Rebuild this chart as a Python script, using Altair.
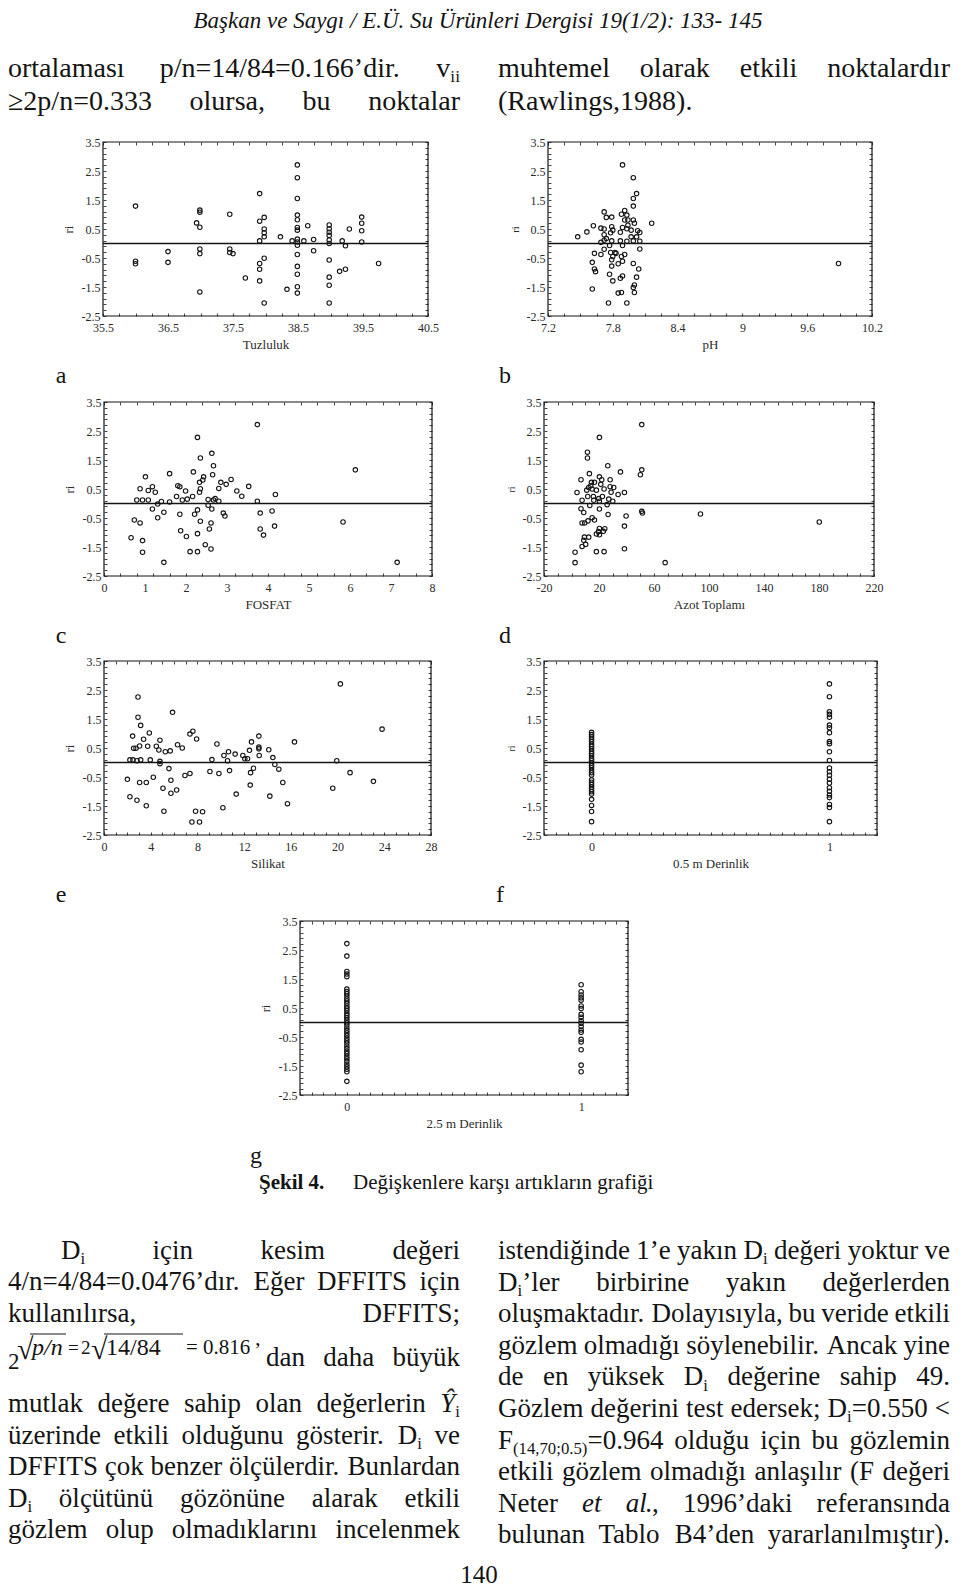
import re
import numpy as np
import pandas as pd
import altair as alt

# ---------------------------------------------------------------- data
tuzluluk_pts = [
    (36.0, 1.29), (36.0, -0.61), (36.0, -0.70), (36.5, -0.28), (36.5, -0.65),
    (36.99, 1.15), (36.99, 1.08), (36.94, 0.71), (36.99, 0.56), (36.99, -0.19),
    (36.99, -0.35), (36.99, -1.67), (37.45, 1.01), (37.45, -0.19), (37.45, -0.31),
    (37.5, -0.35), (37.69, -1.19), (37.91, 1.72), (37.91, 0.77), (37.91, 0.09),
    (37.91, -0.69), (37.91, -0.89), (37.91, -1.29), (37.98, 0.90), (37.98, 0.50),
    (37.98, 0.37), (37.98, 0.23), (37.98, -0.51), (37.98, -2.05), (38.23, 0.23),
    (38.33, -1.58), (38.41, 0.09), (38.49, 2.71), (38.49, 2.27), (38.49, 1.55),
    (38.49, 0.98), (38.49, 0.82), (38.49, 0.55), (38.49, 0.46), (38.49, 0.15),
    (38.49, 0.05), (38.49, -0.06), (38.49, -0.38), (38.49, -0.79), (38.49, -1.06),
    (38.49, -1.49), (38.49, -1.71), (38.59, 0.09), (38.65, 0.61), (38.74, 0.14),
    (38.74, -0.25), (38.98, 0.64), (38.98, 0.51), (38.98, 0.39), (38.98, 0.28),
    (38.98, 0.12), (38.98, 0.0), (38.98, -0.57), (38.98, -1.16), (38.98, -1.44),
    (38.98, -2.05), (39.14, -0.96), (39.18, 0.09), (39.23, -0.08), (39.23, -0.89),
    (39.29, 0.50), (39.48, 0.91), (39.48, 0.70), (39.48, 0.44), (39.48, 0.05),
    (39.74, -0.69),
]
ph_pts = [
    (7.475, 0.23), (7.56, 0.40), (7.62, 0.61), (7.61, -0.65), (7.61, -1.57),
    (7.63, -0.34), (7.63, -0.88), (7.64, -0.97), (7.69, 0.53), (7.69, 0.04),
    (7.69, -0.38), (7.72, 1.09), (7.72, 0.50), (7.72, 0.30), (7.72, 0.11),
    (7.72, -0.20), (7.74, 0.90), (7.74, 0.17), (7.77, -1.06), (7.76, -2.05),
    (7.77, -0.07), (7.78, 0.37), (7.78, -0.31), (7.79, 0.09), (7.79, 0.91),
    (7.79, 0.58), (7.79, -0.56), (7.79, -0.78), (7.80, 0.46), (7.80, -0.45),
    (7.80, -1.29), (7.82, -0.31), (7.83, -0.34), (7.85, -0.70), (7.85, -1.71),
    (7.87, 0.39), (7.87, 0.09), (7.87, -1.20), (7.88, 1.01), (7.88, -0.45),
    (7.88, -1.69), (7.89, 2.71), (7.89, 0.55), (7.89, -0.07), (7.89, -0.61),
    (7.89, -1.12), (7.91, 1.14), (7.91, 0.81), (7.91, -0.38), (7.93, 0.98),
    (7.93, 0.51), (7.93, 0.08), (7.93, -2.05), (7.94, 0.63), (7.94, 0.81),
    (7.97, 0.46), (7.97, 0.23), (7.99, 2.27), (7.99, 1.55), (7.99, 1.29),
    (7.99, 0.81), (7.99, 0.09), (7.99, -0.69), (8.0, 0.70), (8.0, -1.43),
    (8.0, -1.69), (7.99, -1.52), (8.02, 1.72), (8.02, 0.23), (8.02, -1.16),
    (8.03, 0.44), (8.04, -0.88), (8.05, 0.08), (8.05, -0.19), (8.05, 0.38),
    (8.16, 0.70), (9.89, -0.69),
]
fosfat_pts = [
    (0.66, -1.18), (0.74, -0.57), (0.80, 0.12), (0.88, 0.51), (0.88, -0.67),
    (0.94, 0.12), (0.94, -1.28), (0.94, -1.68), (1.01, 0.92), (1.08, 0.45),
    (1.08, 0.12), (1.18, 0.58), (1.18, -0.19), (1.25, 0.39), (1.31, -0.02),
    (1.31, -0.49), (1.40, 0.07), (1.46, -0.30), (1.46, -2.03), (1.60, 1.03),
    (1.60, 0.05), (1.77, 0.24), (1.80, 0.61), (1.85, 0.58), (1.85, -0.37),
    (1.87, -0.94), (1.91, 0.12), (1.99, 0.43), (2.01, -1.14), (2.03, 0.15),
    (2.10, -1.66), (2.16, 0.24), (2.18, 1.09), (2.21, -0.37), (2.28, 2.28),
    (2.28, -0.22), (2.28, -1.04), (2.28, -1.66), (2.33, 0.73), (2.33, 0.39),
    (2.35, 1.57), (2.35, 0.51), (2.35, -0.61), (2.41, 0.81), (2.43, 0.92),
    (2.47, -1.42), (2.54, 0.14), (2.54, -0.06), (2.57, -0.88), (2.61, -0.67),
    (2.61, -1.57), (2.63, 1.73), (2.63, -0.19), (2.65, 0.99), (2.67, 1.30),
    (2.67, 0.12), (2.71, 0.17), (2.80, 0.52), (2.80, 0.08), (2.85, 0.73),
    (2.91, -0.33), (2.95, -0.43), (2.98, 0.66), (3.10, 0.83), (3.24, 0.43),
    (3.36, 0.25), (3.53, 0.59), (3.74, 2.72), (3.74, 0.08), (3.81, -0.33),
    (3.81, -0.88), (3.89, -1.09), (4.10, -0.26), (4.16, -0.78), (4.18, 0.31),
    (5.83, -0.64), (6.13, 1.16), (7.15, -2.03),
]
azot_pts = [
    (2.6, -1.68), (2.6, -2.04), (4.0, 0.38), (6.9, 0.82), (6.9, -0.18),
    (7.7, 0.11), (7.7, -0.67), (7.7, -1.48), (8.9, -0.31), (8.9, -1.27),
    (9.4, -1.16), (9.6, -0.67), (10.3, -1.41), (11.1, 0.46), (11.6, 1.77),
    (11.6, 1.57), (11.8, 0.24), (12.0, -0.60), (12.5, 0.55), (12.5, -1.16),
    (13.0, 1.03), (13.3, -0.07), (14.0, 0.61), (14.5, 0.73), (15.0, 0.50),
    (15.0, -0.49), (15.9, 0.24), (16.2, 0.11), (16.7, 0.73), (16.7, -0.57),
    (18.1, 0.46), (18.1, -1.05), (18.1, -1.66), (19.6, -0.97), (19.8, 0.17),
    (20.3, 2.28), (20.3, 0.92), (20.3, 0.08), (20.3, -0.19), (20.3, -0.86),
    (20.3, -1.08), (21.3, 0.66), (22.0, 0.82), (22.5, 0.24), (23.2, -0.96),
    (23.7, 0.50), (23.7, -1.66), (24.2, -0.87), (25.9, -0.04), (26.4, 1.30),
    (26.6, -0.38), (27.1, 0.15), (28.1, 0.82), (28.1, 0.58), (28.8, 0.39),
    (30.0, 0.08), (30.7, 0.55), (33.9, 0.31), (35.6, 1.09), (38.5, 0.38),
    (38.5, -0.78), (38.5, -1.56), (39.7, -0.43), (50.1, 0.99), (51.1, 2.72),
    (51.1, 1.16), (51.1, -0.27), (51.6, -0.33), (68.1, -2.04), (93.8, -0.36),
    (180.2, -0.64),
]
silikat_pts = [
    (2.0, -0.58), (2.22, -1.18), (2.22, 0.09), (2.45, 0.91), (2.48, 0.09),
    (2.54, 0.49), (2.74, 0.49), (2.82, -1.30), (2.82, 0.06), (2.91, 2.26),
    (2.91, 1.56), (3.05, 0.57), (3.05, -0.69), (3.14, 1.28), (3.14, 0.09),
    (3.39, 0.80), (3.62, -0.69), (3.62, -1.49), (3.74, 0.56), (3.88, 1.02),
    (3.96, 0.09), (4.22, -0.51), (4.48, 0.56), (4.70, 0.43), (4.79, 0.77),
    (4.79, 0.04), (4.79, -0.04), (5.05, -0.89), (5.13, -1.68), (5.25, 0.37),
    (5.56, -0.21), (5.67, 0.40), (5.73, -0.61), (5.73, -1.06), (5.87, 1.73),
    (6.22, -0.95), (6.30, 0.61), (6.70, 0.50), (6.93, -0.45), (7.36, 0.98),
    (7.36, -0.38), (7.53, -2.05), (7.61, 1.08), (7.84, -1.68), (7.93, 0.81),
    (8.18, -2.05), (8.44, -1.70), (9.07, -0.31), (9.24, 0.10), (9.67, 0.64),
    (9.84, -0.38), (10.18, -1.56), (10.27, 0.24), (10.58, 0.06), (10.66, 0.37),
    (10.75, -0.28), (11.23, 0.29), (11.32, -1.09), (11.89, 0.24), (12.06, 0.13),
    (12.29, 0.13), (12.46, 0.42), (12.52, -0.78), (12.55, -0.35), (12.63, 0.71),
    (12.80, -0.20), (13.26, 0.91), (13.26, 0.53), (13.26, 0.47), (13.29, 0.24),
    (14.11, 0.44), (14.20, -1.16), (14.46, 0.17), (14.63, -0.07), (14.97, -0.23),
    (15.31, -0.69), (15.71, -1.42), (16.31, 0.71), (19.59, -0.89), (19.93, 0.06),
    (20.24, 2.71), (21.07, -0.35), (23.07, -0.65), (23.81, 1.15),
]
derin05_at0 = [1.04, 0.96, 0.88, 0.80, 0.72, 0.63, 0.55, 0.47, 0.39, 0.31,
               0.23, 0.14, 0.06, -0.02, -0.10, -0.18, -0.27, -0.35, -0.43, -0.60,
               -0.68, -0.76, -0.85, -0.93, -1.01, -1.09, -1.27, -1.48, -1.69, -2.04]
derin05_at1 = [2.71, 2.27, 1.75, 1.66, 1.56, 1.29, 1.20, 1.03, 0.72, 0.65,
               0.37, 0.07, -0.19, -0.32, -0.44, -0.58, -0.71, -0.87, -0.99, -1.12,
               -1.21, -1.45, -1.55, -2.04]
derin25_at0 = [2.72, 2.29, 1.76, 1.67, 1.58, 1.15, 1.07, 0.99, 0.91, 0.82,
               0.74, 0.66, 0.57, 0.49, 0.41, 0.32, 0.24, 0.16, 0.08, -0.01,
               -0.09, -0.19, -0.28, -0.36, -0.45, -0.54, -0.63, -0.71, -0.81, -0.90,
               -0.99, -1.07, -1.16, -1.25, -1.34, -1.44, -1.53, -1.61, -1.70, -2.03]
derin25_at1 = [1.30, 1.06, 0.95, 0.85, 0.77, 0.57, 0.48, 0.28, 0.18, 0.06,
               -0.03, -0.14, -0.26, -0.34, -0.58, -0.67, -0.94, -1.47, -1.70]

y_ticks = [3.5, 2.5, 1.5, 0.5, -0.5, -1.5, -2.5]
tuz_ticks = [35.5, 36.5, 37.5, 38.5, 39.5, 40.5]
ph_ticks = [7.2, 7.8, 8.4, 9, 9.6, 10.2]
fos_ticks = [0, 1, 2, 3, 4, 5, 6, 7, 8]
azot_ticks = [-20, 20, 60, 100, 140, 180, 220]
sil_ticks = [0, 4, 8, 12, 16, 20, 24, 28]
der_ticks = [0, 1]

header_text = "Başkan ve Saygı / E.Ü. Su Ürünleri Dergisi 19(1/2): 133- 145"
top_left_lines = ["ortalaması p/n=14/84=0.166’dir. v_{ii}",
                  "≥2p/n=0.333 olursa, bu noktalar"]
top_right_lines = ["muhtemel olarak etkili noktalardır",
                   "(Rawlings,1988)."]
panel_letters = ["a", "b", "c", "d", "e", "f", "g"]
caption_bold = "Şekil 4."
caption_rest = "Değişkenlere karşı artıkların grafiği"
left_par_a = ["D_{i} için kesim değeri",
              "4/n=4/84=0.0476’dır. Eğer DFFITS için",
              "kullanılırsa, DFFITS;"]
formula_parts = ["2", "√", "p/n", "=", "2", "√", "14/84", "= 0.816", "’"]
formula_dan = "dan daha büyük"
left_par_b = ["mutlak değere sahip olan değerlerin *Ŷ*_{i}",
              "üzerinde etkili olduğunu gösterir. D_{i} ve",
              "DFFITS çok benzer ölçülerdir. Bunlardan",
              "D_{i} ölçütünü gözönüne alarak etkili",
              "gözlem olup olmadıklarını incelenmek"]
right_par = ["istendiğinde 1’e yakın D_{i} değeri yoktur ve",
             "D_{i}’ler birbirine yakın değerlerden",
             "oluşmaktadır. Dolayısıyla, bu veride etkili",
             "gözlem olmadığı söylenebilir. Ancak yine",
             "de en yüksek D_{i} değerine sahip 49.",
             "Gözlem değerini test edersek; D_{i}=0.550 <",
             "F_{(14,70;0.5)}=0.964 olduğu için bu gözlemin",
             "etkili gözlem olmadığı anlaşılır (F değeri",
             "Neter *et* *al*., 1996’daki referansında",
             "bulunan Tablo B4’den yararlanılmıştır)."]
page_number = "140"

# ---------------------------------------------------------------- layout
W, H = 944, 1579
M = 8
FONT = "Liberation Serif"
INK = "#141414"
LBL = "#2a2a2a"

EM = {'a': .444, 'b': .5, 'c': .444, 'd': .5, 'e': .444, 'f': .333, 'g': .5, 'h': .5,
      'i': .278, 'j': .278, 'k': .5, 'l': .278, 'm': .778, 'n': .5, 'o': .5, 'p': .5,
      'q': .5, 'r': .333, 's': .389, 't': .278, 'u': .5, 'v': .5, 'w': .722, 'x': .5,
      'y': .5, 'z': .444, 'ı': .278, 'ğ': .5, 'ş': .389, 'ç': .444, 'ö': .5, 'ü': .5,
      'A': .722, 'B': .667, 'C': .667, 'D': .722, 'E': .611, 'F': .556, 'G': .722,
      'H': .722, 'I': .333, 'J': .389, 'K': .722, 'L': .611, 'M': .889, 'N': .722,
      'O': .722, 'P': .556, 'R': .667, 'S': .556, 'T': .611, 'U': .722, 'V': .722,
      'Y': .722, 'Ş': .556, 'Ç': .667, 'Ö': .722, 'Ü': .722, 'Ŷ': .556,
      '.': .25, ',': .25, ';': .278, ':': .278, '’': .333, '(': .333, ')': .333,
      '/': .278, '=': .564, '<': .564, '≥': .549, ' ': .25, '-': .333}


def twidth(t, size):
    return sum(EM.get(c, .5) for c in t) * size


def parse(word):
    segs = []
    for m in re.finditer(r'_\{([^}]*)\}|\*([^*]+)\*|([^_*]+)', word):
        if m.group(1) is not None:
            segs.append((m.group(1), 's'))
        elif m.group(2) is not None:
            segs.append((m.group(2), 'i'))
        else:
            segs.append((m.group(3), 'n'))
    return segs


rows = []


def put(t, x, y, size, style='normal', weight='normal', align='left'):
    rows.append(dict(t=t, x=x - M, y=y - M, s=size, style=style, weight=weight, align=align))


def seg_size(k, size):
    return size * 0.62 if k == 's' else size


def emit_word(segs, x, y, size):
    for t, k in segs:
        fs = seg_size(k, size)
        yy = y + size * 0.3 if k == 's' else y
        put(t, x, yy, fs, 'italic' if k == 'i' else 'normal')
        x += twidth(t, fs)


def line(text, x0, x1, y, size, justify=True):
    words = [parse(w) for w in text.split(' ')]
    widths = [sum(twidth(t, seg_size(k, size)) for t, k in s) for s in words]
    if justify and len(words) > 1:
        gap = (x1 - x0 - sum(widths)) / (len(words) - 1)
    else:
        gap = size * 0.25
    x = x0
    for s, w in zip(words, widths):
        emit_word(s, x, y, size)
        x += w + gap


# header and top paragraph
put(header_text, 478, 21, 23, 'italic', align='center')
TOP = 28
RIGHT_EDGE = 950
line(top_left_lines[0], 8, 460, 69, TOP)
line(top_left_lines[1], 8, 460, 102, TOP)
line(top_right_lines[0], 498, RIGHT_EDGE, 69, TOP)
line(top_right_lines[1], 498, RIGHT_EDGE, 102, TOP, justify=False)

# panel letters
for lt, (lx, ly) in zip(panel_letters, [(61, 376), (505, 376), (61, 636), (505, 636),
                                        (61, 895), (500, 895), (256, 1156)]):
    put(lt, lx, ly, 24, align='center')

# caption
put(caption_bold, 259, 1183, 21, weight='bold')
put(caption_rest, 353, 1183, 21)

# bottom paragraphs
BODY = 27
LP = 31.6
line(left_par_a[0], 61, 460, 1251, BODY)
line(left_par_a[1], 8, 460, 1282, BODY)
line(left_par_a[2], 8, 460, 1314, BODY)
# formula: 2 sqrt(p/n) = 2 sqrt(14/84) = 0.816
f_x = [8, 17, 32, 68, 81, 91, 106, 186, 254]
f_y = [1362, 1350, 1348, 1348, 1348, 1350, 1348, 1348, 1350]
f_s = [23, 30, 24, 19, 19, 30, 24, 21, 22]
for t, fx, fy, fs in zip(formula_parts, f_x, f_y, f_s):
    put(t, fx, fy, fs, 'italic' if t == "p/n" else 'normal')
overlines = pd.DataFrame({'xa': [30 - M, 104 - M], 'xb': [66 - M, 183 - M],
                          'yy': [1334 - M, 1334 - M]})
line(formula_dan, 266, 460, 1358, BODY)
for i, t in enumerate(left_par_b):
    line(t, 8, 460, 1404 + LP * i, BODY)
for i, t in enumerate(right_par):
    line(t, 498, RIGHT_EDGE, 1251 + LP * i, BODY)
put(page_number, 479, 1575, 25, align='center')

text_df = pd.DataFrame(rows)

# ---------------------------------------------------------------- panels
panels = [
    dict(pts=tuzluluk_pts, dom=[35.5, 40.5], ticks=tuz_ticks, title="Tuzluluk",
         box=(103, 428, 142, 316), ysz=13, minor=0.25),
    dict(pts=ph_pts, dom=[7.2, 10.2], ticks=ph_ticks, title="pH",
         box=(548, 872, 142, 316), ysz=11, minor=0.15),
    dict(pts=fosfat_pts, dom=[0, 8], ticks=fos_ticks, title="FOSFAT",
         box=(104, 432, 402, 576), ysz=13, minor=0.4),
    dict(pts=azot_pts, dom=[-20, 220], ticks=azot_ticks, title="Azot Toplamı",
         box=(544, 874, 402, 576), ysz=10, minor=10),
    dict(pts=silikat_pts, dom=[0, 28], ticks=sil_ticks, title="Silikat",
         box=(104, 431, 661, 835), ysz=13, minor=1),
    dict(pts=[(0, v) for v in derin05_at0] + [(1, v) for v in derin05_at1],
         dom=[-0.2, 1.2], ticks=der_ticks, title="0.5 m Derinlik",
         box=(544, 877, 661, 835), ysz=10, minor=0.05),
    dict(pts=[(0, v) for v in derin25_at0] + [(1, v) for v in derin25_at1],
         dom=[-0.2, 1.2], ticks=der_ticks, title="2.5 m Derinlik",
         box=(300, 628, 921, 1095), ysz=12, minor=0.05),
]

y_minor = [round(v, 4) for v in np.arange(-2.5, 3.5001, 0.2)]


def minor_axis(orient, offset, values):
    return alt.Axis(orient=orient, offset=offset, values=values, labels=False,
                    domain=False, grid=False, ticks=True, tickSize=3,
                    tickColor=INK, tickWidth=0.8, title=None)


layers = []
for p in panels:
    x0, x1, y0, y1 = [v - M for v in p['box']]
    xs = alt.Scale(domain=p['dom'], range=[x0, x1], nice=False, zero=False)
    ys = alt.Scale(domain=[-2.5, 3.5], range=[y1, y0], nice=False, zero=False)
    x_minor = [round(v, 4) for v in np.arange(p['dom'][0], p['dom'][1] + 1e-6, p['minor'])]
    df = pd.DataFrame(p['pts'], columns=['x', 'r'])

    pts = alt.Chart(df).mark_point(
        shape='circle', filled=False, size=20, strokeWidth=1.1, color=INK, opacity=1
    ).encode(
        x=alt.X('x:Q', scale=xs, axis=alt.Axis(
            orient='bottom', offset=y1 - H, values=p['ticks'], labelExpr="datum.value + ''",
            title=p['title'], domain=False, grid=False, ticks=False, tickSize=0,
            labelPadding=6, labelFontSize=12, labelColor=LBL, labelFlush=False,
            labelOverlap=False, labelFont=FONT, titleFont=FONT, titleFontSize=13,
            titleFontWeight='normal', titleColor=LBL, titlePadding=5)),
        y=alt.Y('r:Q', scale=ys, axis=alt.Axis(
            orient='left', offset=-x0, values=y_ticks, labelExpr="datum.value + ''",
            title='ri', domain=False, grid=False, ticks=False, tickSize=0,
            labelPadding=3, labelFontSize=12, labelColor=LBL, labelFlush=False,
            labelOverlap=False, labelFont=FONT, titleFont=FONT, titleFontSize=p['ysz'],
            titleFontWeight='normal', titleColor=LBL, titlePadding=6)),
    )

    fr = pd.DataFrame({'a': [p['dom'][0]], 'b': [p['dom'][1]], 'lo': [-2.5], 'hi': [3.5]})
    frame = alt.Chart(fr).mark_rect(fillOpacity=0, stroke=INK, strokeWidth=1.2).encode(
        x=alt.X('a:Q', scale=xs, axis=minor_axis('bottom', y0 - H, x_minor)),
        x2='b:Q',
        y=alt.Y('lo:Q', scale=ys, axis=minor_axis('right', x0 - W, y_minor)),
        y2='hi:Q',
    )

    zr = pd.DataFrame({'a': [p['dom'][0]], 'b': [p['dom'][1]], 'z': [0.0]})
    rule = alt.Chart(zr).mark_rule(color=INK, strokeWidth=1.4).encode(
        x=alt.X('a:Q', scale=xs, axis=minor_axis('top', -y1, x_minor)),
        x2='b:Q',
        y=alt.Y('z:Q', scale=ys, axis=minor_axis('left', -x1, y_minor)),
    )
    layers += [frame, rule, pts]

# text layers
for (style, weight, align), sub in text_df.groupby(['style', 'weight', 'align']):
    layers.append(
        alt.Chart(sub).mark_text(align=align, baseline='middle', font=FONT,
                                 fontStyle=style, fontWeight=weight, color=INK).encode(
            x=alt.X('x:Q', scale=None, axis=None),
            y=alt.Y('y:Q', scale=None, axis=None),
            text='t:N',
            size=alt.Size('s:Q', scale=None, legend=None),
        )
    )

layers.append(
    alt.Chart(overlines).mark_rule(color=INK, strokeWidth=1).encode(
        x=alt.X('xa:Q', scale=None, axis=None),
        x2='xb:Q',
        y=alt.Y('yy:Q', scale=None, axis=None),
    )
)

chart = alt.layer(*layers).resolve_scale(
    x='independent', y='independent'
).resolve_axis(
    x='independent', y='independent'
).properties(
    width=W, height=H, padding=0, autosize=alt.AutoSizeParams(type='none')
).configure(font=FONT).configure_view(stroke=None)

chart.save("out.html", embed_options={"renderer": "svg", "actions": False})
